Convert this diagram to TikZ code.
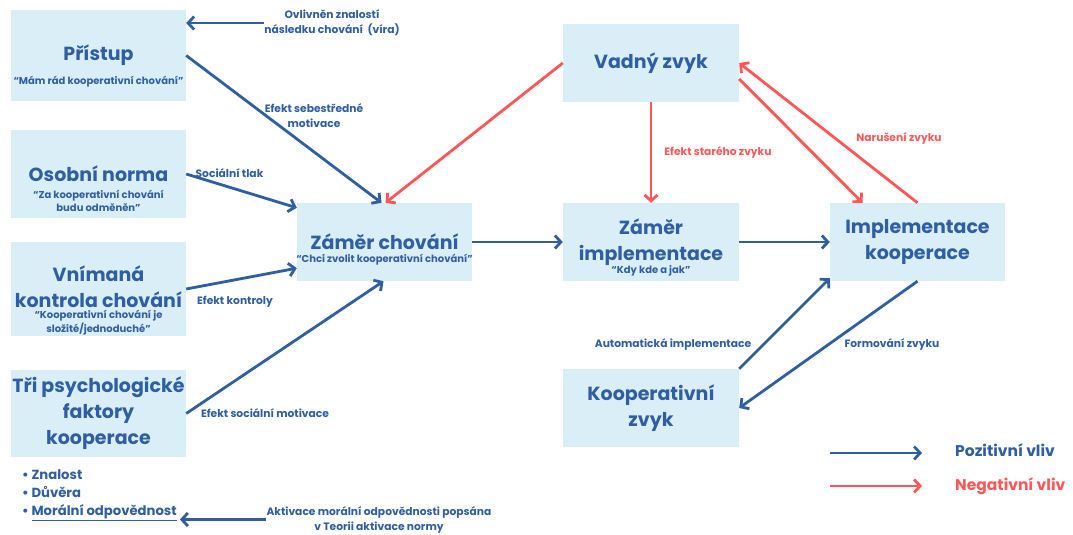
\documentclass[tikz,border=0pt]{standalone}
\usepackage{fontspec}
\setmainfont{Poppins}
\usetikzlibrary{arrows.meta}
\definecolor{modra}{HTML}{2F5EA3}
\definecolor{cervena}{HTML}{FF5757}
\definecolor{svetla}{HTML}{D9EEF7}
\newcommand{\velky}{\fontsize{19}{26}\selectfont}
\newcommand{\citat}{\fontsize{10}{13.5}\selectfont}
\newcommand{\popis}{\fontsize{10.7}{15}\selectfont}
\newcommand{\vetsi}{\fontsize{13.2}{18}\selectfont}
\newcommand{\legenda}{\fontsize{15.5}{18}\selectfont}

\begin{document}
\begin{tikzpicture}[x=1pt,y=-1pt]
    \tikzset{BoxStyle/.style = {fill=svetla, inner sep=0pt, minimum width=175pt, minimum height=78pt, align=center, text=modra, font=\bfseries\velky}}
    \tikzset{QuoteStyle/.style = {inner sep=0pt, align=center, text=modra, font=\bfseries\citat}}
    \tikzset{LabelStyle/.style = {inner sep=0pt, align=center, text=modra, font=\bfseries\popis}}
    \tikzset{PosStyle/.style = {draw=modra, line width=2.8pt, -{Straight Barb[length=6pt, width=13pt]}}}
    \tikzset{NegStyle/.style = {PosStyle, draw=cervena}}
    \useasboundingbox (0,0) rectangle (1073,535);
    \node[BoxStyle, minimum height=91pt] (pristup) at (98.5,55.5) {Přístup};
    \node[BoxStyle, minimum height=88pt] (osobni) at (98.5,174) {Osobní norma};
    \node[BoxStyle, minimum height=94pt] (vnimana) at (98.5,289) {Vnímaná\\kontrola chování\rule[-5pt]{0pt}{5pt}};
    \node[BoxStyle, minimum height=87pt] (tri) at (98.5,413.5) {Tři psychologické\\faktory\\kooperace};
    \node[BoxStyle] (zamch) at (384.5,242) {Záměr chování};
    \node[BoxStyle, minimum width=176pt] (vadny) at (651,63) {Vadný zvyk};
    \node[BoxStyle, minimum width=176pt] (zamimp) at (651,242) {Záměr\\implementace};
    \node[BoxStyle] (impl) at (917.5,242) {Implementace\\kooperace};
    \node[BoxStyle, minimum width=176pt] (kzvyk) at (651,408) {Kooperativní\\zvyk};
    \node[QuoteStyle] (pristupQ) at (98.5,82) {“Mám rád kooperativní chování”};
    \node[QuoteStyle] (osobniQ) at (98.5,201) {“Za kooperativní chování\\budu odměněn”};
    \node[QuoteStyle] (vnimanaQ) at (98.5,322.5) {“Kooperativní chování je\\složité/jednoduché”};
    \node[QuoteStyle] (zamchQ) at (384.5,260) {“Chci zvolit kooperativní chování”};
    \node[QuoteStyle] (zamimpQ) at (651,271) {“Kdy kde a jak”};
    \node[LabelStyle] (ovlivnen) at (332,23) {Ovlivněn znalostí\\následku chování~ (víra)};
    \node[LabelStyle] (sebestr) at (314,115.5) {Efekt sebestředné\\motivace};
    \node[LabelStyle] (tlak) at (229.5,173) {Sociální tlak};
    \node[LabelStyle] (kontrola) at (235,302) {Efekt kontroly};
    \node[LabelStyle] (socmot) at (265,413) {Efekt sociální motivace};
    \node[LabelStyle] (aktivace) at (379,519.5) {Aktivace morální odpovědnosti popsána\\v Teorii aktivace normy};
    \node[LabelStyle, text=cervena] (stary) at (718,152) {Efekt starého zvyku};
    \node[LabelStyle, text=cervena] (naruseni) at (899,138) {Narušení zvyku};
    \node[LabelStyle] (automat) at (673,344) {Automatická implementace};
    \node[LabelStyle] (formovani) at (892,344) {Formování zvyku};
    \node[LabelStyle, font=\bfseries\vetsi, align=left, anchor=west] (faktory) at (22,495) {• Znalost\\• Důvěra\\• \underline{Morální odpovědnost}};
    \draw[PosStyle] (ovlivnen.west) -- (ovlivnen.west -| pristup.east);
    \draw[PosStyle] (aktivace.west) -- ([xshift=3pt]aktivace.west -| faktory.east);
    \draw[PosStyle] (pristup.east) -- ([xshift=-3pt]zamch.north);
    \draw[PosStyle] (osobni.east) -- ([yshift=-5pt]zamch.north west);
    \draw[PosStyle] (vnimana.east) -- ([yshift=13pt]zamch.south west);
    \draw[PosStyle] (tri.east) -- ([xshift=-1pt]zamch.south);
    \draw[PosStyle] (zamch.east) -- (zamimp.west);
    \draw[PosStyle] (zamimp.east) -- (impl.west);
    \draw[PosStyle] (kzvyk.north east) -- ([yshift=3pt]impl.south west);
    \draw[PosStyle] (impl.south) -- (kzvyk.east);
    \draw[NegStyle] (vadny.west) -- ([xshift=1pt]zamch.north);
    \draw[NegStyle] (vadny.south) -- (zamimp.north);
    \draw[NegStyle] ([yshift=-16pt]vadny.east) -- ([xshift=-55pt]impl.north);
    \draw[NegStyle] (impl.north) -- (vadny.east);
    \coordinate (pozA) at (830,453);
    \coordinate (pozB) at (922,453);
    \coordinate (negA) at (830,486);
    \coordinate (negB) at (922,486);
    \draw[PosStyle] (pozA) -- (pozB);
    \draw[NegStyle] (negA) -- (negB);
    \node[LabelStyle, font=\bfseries\legenda, anchor=west] (pozitivni) at (955,450) {Pozitivní vliv};
    \node[LabelStyle, font=\bfseries\legenda, anchor=west, text=cervena] (negativni) at (955,486) {Negativní vliv};
\end{tikzpicture}
\end{document}
